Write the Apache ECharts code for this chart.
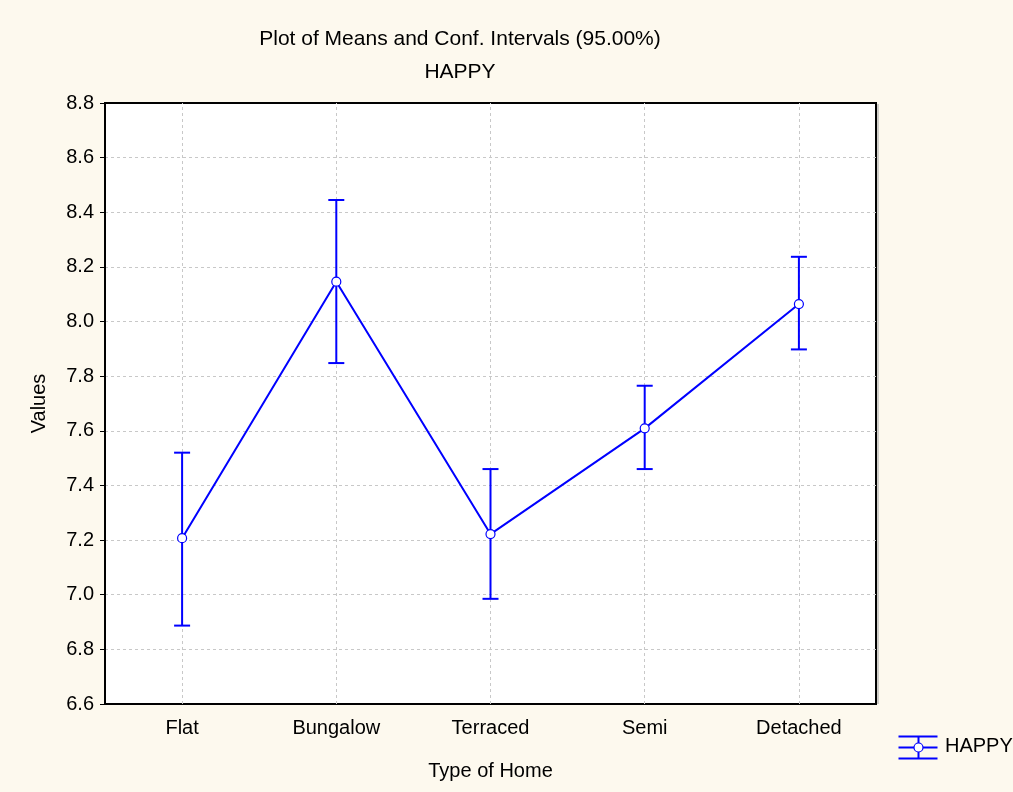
<!DOCTYPE html>
<html>
<head>
<meta charset="utf-8">
<script src="https://cdn.jsdelivr.net/npm/echarts@6/dist/echarts.min.js"></script>
<style>
html,body{margin:0;padding:0;background:#FDF9EE;}
#chart{width:1013px;height:792px;}
</style>
</head>
<body>
<div id="chart"></div>
<script>
const categories = ['Flat', 'Bungalow', 'Terraced', 'Semi', 'Detached'];
const means = [7.207, 8.146, 7.222, 7.609, 8.064];
const lowerCI = [6.887, 7.848, 6.985, 7.460, 7.898];
const upperCI = [7.520, 8.445, 7.460, 7.765, 8.237];
const yTicks = ['6.6','6.8','7.0','7.2','7.4','7.6','7.8','8.0','8.2','8.4','8.6','8.8'];
const seriesName = 'HAPPY';

const FONT = 'Liberation Sans, Arial, sans-serif';
const BLUE = '#0000FF';
const FS = 20;

const chart = echarts.init(document.getElementById('chart'));
const errData = categories.map((c, i) => [i, lowerCI[i], upperCI[i]]);

chart.setOption({
  backgroundColor: '#FDF9EE',
  animation: false,
  title: [
    { text: 'Plot of Means and Conf. Intervals (95.00%)', left: 455, top: 24, textAlign: 'center',
      textStyle: { fontFamily: FONT, fontSize: 21, fontWeight: 'normal', color: '#000' } },
    { text: seriesName, left: 455, top: 57, textAlign: 'center',
      textStyle: { fontFamily: FONT, fontSize: 21, fontWeight: 'normal', color: '#000' } }
  ],
  grid: { left: 105, top: 103, width: 771, height: 601, show: true, backgroundColor: '#FFFFFF',
          borderColor: '#000', borderWidth: 2 },
  xAxis: {
    type: 'category', data: categories, boundaryGap: true,
    name: 'Type of Home', nameLocation: 'middle', nameGap: 57,
    nameTextStyle: { fontFamily: FONT, fontSize: FS, color: '#000' },
    axisLine: { lineStyle: { color: '#000', width: 2 } },
    axisTick: { alignWithLabel: true, inside: true, length: 5, lineStyle: { color: '#000' } },
    axisLabel: { fontFamily: FONT, fontSize: FS, color: '#000', margin: 14 },
    splitLine: { show: false }
  },
  yAxis: {
    type: 'value', min: 6.6, max: 8.8, interval: 0.2,
    name: 'Values', nameLocation: 'middle', nameGap: 56,
    nameTextStyle: { fontFamily: FONT, fontSize: FS, color: '#000' },
    axisLine: { show: true, lineStyle: { color: '#000', width: 2 } },
    axisTick: { show: true, length: 5, lineStyle: { color: '#000' } },
    axisLabel: { fontFamily: FONT, fontSize: FS, color: '#000', margin: 11,
                 formatter: v => yTicks[Math.round((v - 6.6) / 0.2)] },
    splitLine: { show: true, showMinLine: false, showMaxLine: false,
                 lineStyle: { color: '#C8C8C8', type: [3, 3], width: 1 } }
  },
  series: [
    {
      type: 'line',
      name: 'grid',
      z: 1,
      data: [],
      silent: true,
      markLine: {
        silent: true, symbol: 'none', label: { show: false },
        lineStyle: { color: '#C8C8C8', type: [3, 3], width: 1 },
        data: categories.map(c => ({ xAxis: c }))
      }
    },
    {
      type: 'custom',
      name: 'err',
      z: 5,
      data: errData,
      renderItem: function (params, api) {
        const x = api.value(0);
        const lo = api.coord([x, api.value(1)]);
        const hi = api.coord([x, api.value(2)]);
        const hw = 8;
        const style = { stroke: BLUE, lineWidth: 2 };
        return {
          type: 'group',
          children: [
            { type: 'line', shape: { x1: lo[0], y1: lo[1], x2: hi[0], y2: hi[1] }, style: style },
            { type: 'line', shape: { x1: lo[0] - hw, y1: lo[1], x2: lo[0] + hw, y2: lo[1] }, style: style },
            { type: 'line', shape: { x1: hi[0] - hw, y1: hi[1], x2: hi[0] + hw, y2: hi[1] }, style: style }
          ]
        };
      },
      encode: { x: 0, y: [1, 2] }
    },
    {
      type: 'line',
      name: seriesName,
      z: 6,
      data: means,
      symbol: 'circle',
      symbolSize: 9,
      itemStyle: { color: '#FFFFFF', borderColor: BLUE, borderWidth: 1.2 },
      lineStyle: { color: BLUE, width: 2 }
    }
  ],
  graphic: [
    { type: 'line', shape: { x1: 878, y1: 104, x2: 878, y2: 704 }, style: { stroke: '#A0A0A0', lineWidth: 1 } },
    { type: 'group', left: 896, top: 734, children: [
      { type: 'line', shape: { x1: 0, y1: 1, x2: 39, y2: 1 }, style: { stroke: BLUE, lineWidth: 2 } },
      { type: 'line', shape: { x1: 0, y1: 12, x2: 39, y2: 12 }, style: { stroke: BLUE, lineWidth: 2 } },
      { type: 'line', shape: { x1: 0, y1: 23, x2: 39, y2: 23 }, style: { stroke: BLUE, lineWidth: 2 } },
      { type: 'line', shape: { x1: 20, y1: 1, x2: 20, y2: 23 }, style: { stroke: BLUE, lineWidth: 2 } },
      { type: 'circle', shape: { cx: 20, cy: 12, r: 4.5 }, style: { fill: '#FFFFFF', stroke: BLUE, lineWidth: 1.2 } }
    ]},
    { type: 'text', left: 945, top: 736, style: { text: seriesName, fontFamily: FONT, fontSize: FS, fill: '#000' } }
  ]
});
</script>
</body>
</html>
